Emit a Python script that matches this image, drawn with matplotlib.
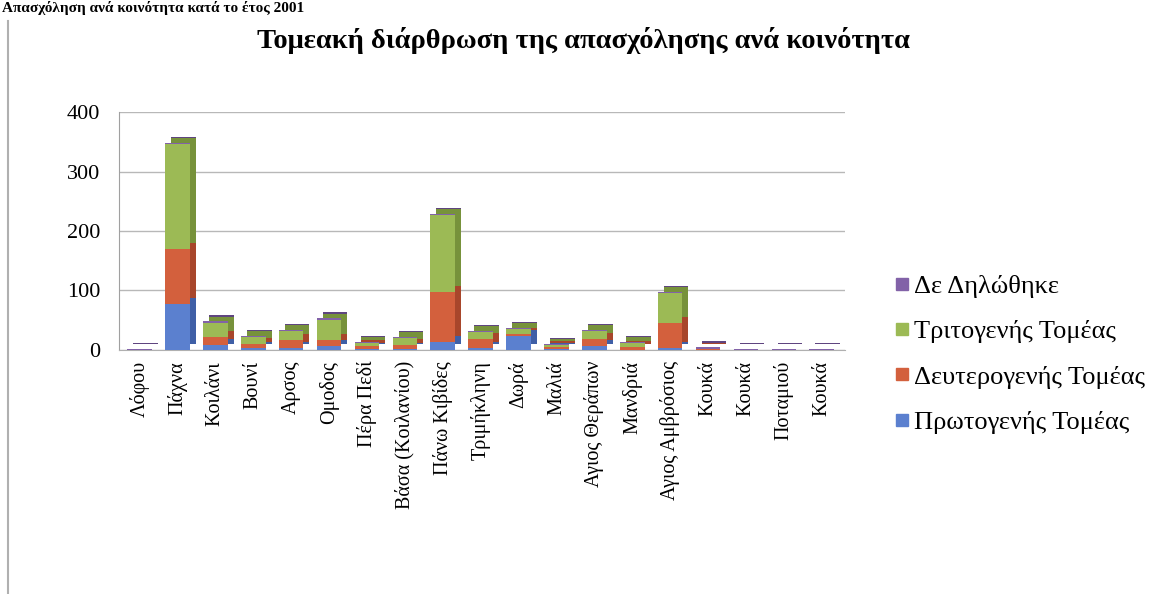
import numpy as np
import matplotlib
matplotlib.use('Agg')
import matplotlib.pyplot as plt
import matplotlib.transforms as mtrans
from matplotlib.lines import Line2D

plt.rcParams['font.family'] = ['Liberation Serif', 'DejaVu Serif']

# data (employment per community, by sector)
communities = ['Λόφου', 'Πάχνα', 'Κοιλάνι', 'Βουνί', 'Αρσος', 'Ομοδος', 'Πέρα Πεδί',
               'Βάσα (Κοιλανίου)', 'Πάνω Κιβίδες', 'Τριμήκληνη', 'Δωρά', 'Μαλιά',
               'Αγιος Θεράπων', 'Μανδριά', 'Αγιος Αμβρόσιος', 'Κουκά', 'Κουκά',
               'Ποταμιού', 'Κουκά']
primary = [0, 78, 8, 3, 3, 7, 2, 2, 13, 3, 24, 1, 7, 0, 3, 0, 0, 0, 0]
secondary = [0, 92, 13, 7, 14, 9, 5, 6, 84, 15, 3, 4, 12, 5, 43, 1, 0, 0, 0]
tertiary = [0, 176, 25, 12, 15, 35, 5, 12, 130, 12, 8, 3, 13, 6, 50, 1, 0, 0, 0]
undeclared = [2, 3, 2, 2, 2, 2, 2, 2, 2, 2, 2, 2, 2, 2, 2, 2, 2, 2, 2]

series = [('Πρωτογενής Τομέας', primary, '#5b80cf', '#3f5fa6'),
          ('Δευτερογενής Τομέας', secondary, '#d3603d', '#a8462b'),
          ('Τριτογενής Τομέας', tertiary, '#9cba55', '#77923b'),
          ('Δε Δηλώθηκε', undeclared, '#8262a8', '#5f4580')]

fig = plt.figure(figsize=(11.49, 5.94), dpi=100)
ax = fig.add_axes([0.104, 0.411, 0.631, 0.40])

x = np.arange(len(communities))
w = 0.65
depth = mtrans.offset_copy(ax.transData, fig=fig, x=6, y=6, units='dots')

# side/top faces first (shifted darker copies), then the front faces
bottom = np.zeros(len(x))
for name, vals, col, dark in series:
    ax.bar(x, vals, w, bottom=bottom, color=dark, transform=depth, zorder=2)
    bottom += np.array(vals)
bottom = np.zeros(len(x))
for name, vals, col, dark in series:
    ax.bar(x, vals, w, bottom=bottom, color=col, zorder=3, label=name)
    bottom += np.array(vals)

ax.set_ylim(0, 400)
ax.set_xlim(-0.53, len(x) - 0.4)
ax.set_yticks([0, 100, 200, 300, 400])
ax.yaxis.grid(True, color='#b8b8b8', linewidth=1.0, zorder=0)
ax.set_axisbelow(True)
ax.set_xticks(x)
ax.set_xticklabels(communities, rotation=90, fontsize=14.5, va='top')
ax.tick_params(axis='y', labelsize=16, length=0, pad=14)
ax.tick_params(axis='x', length=0, pad=8)
for s in ['top', 'right']:
    ax.spines[s].set_visible(False)
ax.spines['left'].set_color('#a0a0a0')
ax.spines['bottom'].set_color('#b0b0b0')

handles = [Line2D([], [], marker='s', linestyle='none', markersize=9,
                  color=col) for name, vals, col, dark in series[::-1]]
labels = [name for name, vals, col, dark in series[::-1]]
fig.legend(handles, labels, loc='upper left', bbox_to_anchor=(0.755, 0.578),
           frameon=False, fontsize=19, handletextpad=0.05, labelspacing=0.83,
           handlelength=0.8)

fig.suptitle('Τομεακή διάρθρωση της απασχόλησης ανά κοινότητα', x=0.508, y=0.955,
             fontsize=20.5, fontweight='bold')
fig.text(0.002, 0.998, 'Απασχόληση ανά κοινότητα κατά το έτος 2001', va='top',
         ha='left', fontsize=11, fontweight='bold')
fig.add_artist(Line2D([0.007, 0.007], [0.0, 0.965], transform=fig.transFigure,
                      color='#b0b0b0', linewidth=1.5))

fig.savefig('out.png', dpi=100)
